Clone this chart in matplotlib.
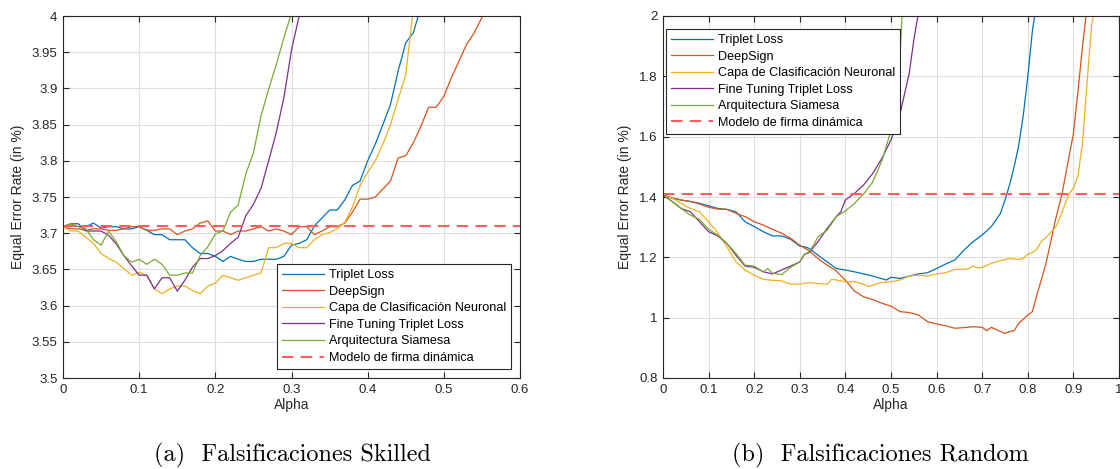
import numpy as np
import matplotlib
matplotlib.use("Agg")
import matplotlib.pyplot as plt

plt.rcParams['font.family'] = ['Liberation Sans', 'DejaVu Sans']

# colores estilo MATLAB
c_blue = "#0072BD"
c_orange = "#D95319"
c_yellow = "#EDB120"
c_purple = "#7E2F8E"
c_green = "#77AC30"

labels = ["Triplet Loss", "DeepSign", "Capa de Clasificación Neuronal",
          "Fine Tuning Triplet Loss", "Arquitectura Siamesa", "Modelo de firma dinámica"]

# (a) falsificaciones skilled, alpha cada 0.01
skl_triplet = [3.709, 3.7105, 3.709, 3.709, 3.714, 3.707, 3.709, 3.709, 3.706, 3.706,
               3.709, 3.704, 3.698, 3.698, 3.691, 3.691, 3.691, 3.680, 3.672, 3.672,
               3.668, 3.661, 3.668, 3.664, 3.661, 3.661, 3.664, 3.664, 3.664, 3.668,
               3.6835, 3.686, 3.691, 3.710, 3.721, 3.732, 3.732, 3.746, 3.766, 3.772,
               3.800, 3.823, 3.850, 3.878, 3.924, 3.963, 3.977, 4.013, 4.06]
skl_deepsign = [3.709, 3.706, 3.706, 3.704, 3.706, 3.706, 3.704, 3.704, 3.706, 3.709,
                3.709, 3.704, 3.704, 3.706, 3.706, 3.698, 3.703, 3.706, 3.714, 3.717,
                3.703, 3.703, 3.698, 3.703, 3.703, 3.706, 3.709, 3.703, 3.706, 3.703,
                3.698, 3.709, 3.709, 3.698, 3.703, 3.709, 3.709, 3.714, 3.729, 3.747,
                3.747, 3.750, 3.761, 3.772, 3.804, 3.807, 3.825, 3.848, 3.874, 3.874,
                3.889, 3.915, 3.938, 3.961, 3.977, 3.998, 4.03]
skl_capa = [3.709, 3.703, 3.703, 3.6945, 3.686, 3.672, 3.665, 3.660, 3.651, 3.642,
            3.646, 3.642, 3.623, 3.6165, 3.623, 3.627, 3.627, 3.621, 3.6165, 3.627,
            3.631, 3.642, 3.6385, 3.635, 3.6385, 3.642, 3.645, 3.680, 3.680, 3.686,
            3.686, 3.680, 3.680, 3.691, 3.698, 3.701, 3.706, 3.715, 3.736, 3.766,
            3.784, 3.800, 3.823, 3.850, 3.885, 3.919, 4.01, 4.1]
skl_fine = [3.709, 3.713, 3.713, 3.703, 3.703, 3.703, 3.697, 3.685, 3.669, 3.655,
            3.642, 3.642, 3.623, 3.6385, 3.6385, 3.620, 3.635, 3.653, 3.665, 3.665,
            3.669, 3.676, 3.686, 3.6945, 3.724, 3.740, 3.762, 3.800, 3.839, 3.887,
            3.953, 4.0, 4.05]
skl_siam = [3.709, 3.713, 3.709, 3.706, 3.691, 3.6835, 3.703, 3.688, 3.669, 3.660,
            3.664, 3.657, 3.664, 3.657, 3.642, 3.642, 3.645, 3.645, 3.669, 3.681,
            3.699, 3.703, 3.729, 3.739, 3.782, 3.811, 3.862, 3.899, 3.933, 3.970,
            4.004, 4.05]
skl_ref = 3.71

# (b) falsificaciones random
rnd_triplet_x = [0, 0.02, 0.04, 0.06, 0.08, 0.10, 0.12, 0.14, 0.16, 0.18, 0.20, 0.22, 0.24,
                 0.26, 0.28, 0.30, 0.31, 0.32, 0.34, 0.36, 0.38, 0.40, 0.42, 0.44, 0.46,
                 0.48, 0.49, 0.50, 0.52, 0.54, 0.56, 0.58, 0.60, 0.62, 0.64, 0.66, 0.68,
                 0.70, 0.72, 0.74, 0.75, 0.76, 0.77, 0.78, 0.79, 0.80, 0.81, 0.82]
rnd_triplet_y = [1.407, 1.396, 1.39, 1.385, 1.379, 1.371, 1.362, 1.359, 1.351, 1.318, 1.302,
                 1.285, 1.271, 1.271, 1.26, 1.237, 1.235, 1.23, 1.207, 1.185, 1.163, 1.158,
                 1.152, 1.145, 1.138, 1.129, 1.125, 1.134, 1.13, 1.138, 1.145, 1.149, 1.163,
                 1.178, 1.191, 1.224, 1.252, 1.274, 1.302, 1.346, 1.39, 1.44, 1.50, 1.57,
                 1.67, 1.80, 1.95, 2.05]
rnd_deepsign_x = [0, 0.02, 0.04, 0.06, 0.08, 0.10, 0.12, 0.14, 0.16, 0.18, 0.20, 0.22, 0.24,
                  0.26, 0.28, 0.30, 0.32, 0.34, 0.36, 0.38, 0.40, 0.42, 0.44, 0.46, 0.48,
                  0.50, 0.52, 0.54, 0.56, 0.58, 0.60, 0.62, 0.64, 0.66, 0.68, 0.70, 0.71,
                  0.72, 0.74, 0.75, 0.76, 0.77, 0.78, 0.80, 0.81, 0.82, 0.84, 0.86, 0.875,
                  0.89, 0.90, 0.91, 0.92, 0.93]
rnd_deepsign_y = [1.407, 1.396, 1.39, 1.385, 1.377, 1.366, 1.36, 1.359, 1.346, 1.335, 1.318,
                  1.307, 1.293, 1.28, 1.263, 1.24, 1.222, 1.196, 1.174, 1.155, 1.124, 1.088,
                  1.069, 1.06, 1.048, 1.038, 1.02, 1.017, 1.009, 0.987, 0.979, 0.973, 0.965,
                  0.967, 0.970, 0.968, 0.957, 0.968, 0.954, 0.948, 0.954, 0.957, 0.981,
                  1.009, 1.02, 1.075, 1.18, 1.32, 1.41, 1.53, 1.61, 1.75, 1.90, 2.03]
rnd_capa_x = [0, 0.02, 0.04, 0.06, 0.08, 0.10, 0.12, 0.14, 0.16, 0.18, 0.20, 0.22, 0.24,
              0.26, 0.28, 0.30, 0.32, 0.34, 0.36, 0.37, 0.38, 0.40, 0.42, 0.44, 0.45, 0.46,
              0.48, 0.50, 0.52, 0.54, 0.56, 0.58, 0.60, 0.62, 0.64, 0.66, 0.67, 0.68, 0.69,
              0.70, 0.72, 0.74, 0.76, 0.78, 0.79, 0.80, 0.81, 0.82, 0.83, 0.84, 0.85, 0.86,
              0.87, 0.88, 0.89, 0.90, 0.91, 0.92, 0.93, 0.94, 0.95]
rnd_capa_y = [1.407, 1.396, 1.379, 1.362, 1.351, 1.318, 1.282, 1.235, 1.185, 1.158, 1.141,
              1.127, 1.124, 1.122, 1.111, 1.111, 1.116, 1.113, 1.111, 1.127, 1.125, 1.119,
              1.119, 1.111, 1.103, 1.108, 1.117, 1.119, 1.125, 1.138, 1.141, 1.138, 1.145,
              1.149, 1.16, 1.16, 1.162, 1.171, 1.165, 1.166, 1.18, 1.189, 1.196, 1.193,
              1.196, 1.21, 1.216, 1.227, 1.254, 1.265, 1.282, 1.298, 1.33, 1.37, 1.41,
              1.43, 1.47, 1.58, 1.78, 1.97, 2.05]
rnd_fine_x = [0, 0.02, 0.04, 0.06, 0.08, 0.10, 0.12, 0.14, 0.16, 0.18, 0.20, 0.22, 0.24,
              0.26, 0.28, 0.30, 0.31, 0.32, 0.34, 0.36, 0.38, 0.39, 0.40, 0.42, 0.44, 0.46,
              0.48, 0.50, 0.52, 0.54, 0.55, 0.56]
rnd_fine_y = [1.407, 1.385, 1.362, 1.351, 1.318, 1.285, 1.271, 1.246, 1.207, 1.171, 1.167,
              1.152, 1.145, 1.158, 1.171, 1.185, 1.21, 1.215, 1.252, 1.296, 1.335, 1.351,
              1.39, 1.412, 1.44, 1.478, 1.528, 1.589, 1.677, 1.81, 1.92, 2.01]
rnd_siam_x = [0, 0.02, 0.04, 0.06, 0.08, 0.10, 0.12, 0.14, 0.16, 0.18, 0.20, 0.22, 0.23,
              0.24, 0.26, 0.28, 0.30, 0.31, 0.32, 0.33, 0.34, 0.36, 0.38, 0.40, 0.42, 0.44,
              0.46, 0.48, 0.50, 0.51, 0.52, 0.525]
rnd_siam_y = [1.407, 1.385, 1.362, 1.34, 1.326, 1.293, 1.274, 1.246, 1.213, 1.174, 1.171,
              1.152, 1.163, 1.147, 1.143, 1.167, 1.185, 1.21, 1.218, 1.24, 1.268, 1.29,
              1.335, 1.354, 1.379, 1.41, 1.45, 1.52, 1.62, 1.70, 1.88, 2.02]
rnd_ref = 1.41

skl_ticks_y = [3.5, 3.55, 3.6, 3.65, 3.7, 3.75, 3.8, 3.85, 3.9, 3.95, 4]
skl_ticks_x = [0, 0.1, 0.2, 0.3, 0.4, 0.5, 0.6]
rnd_ticks_y = [0.8, 1, 1.2, 1.4, 1.6, 1.8, 2]
rnd_ticks_x = [0, 0.1, 0.2, 0.3, 0.4, 0.5, 0.6, 0.7, 0.8, 0.9, 1]


def fmt(v):
    s = ("%.2f" % v).rstrip("0").rstrip(".")
    return s


def estilo(ax, xt, yt):
    ax.set_xticks(xt)
    ax.set_yticks(yt)
    ax.set_xticklabels([fmt(v) for v in xt])
    ax.set_yticklabels([fmt(v) for v in yt])
    ax.tick_params(direction="in", length=4, width=0.8, top=True, right=True,
                   labelsize=9.5, colors="#262626", pad=4)
    ax.grid(True, color="#dedede", linewidth=0.8)
    ax.set_axisbelow(True)
    for s in ax.spines.values():
        s.set_color("#262626")
        s.set_linewidth(0.8)
    ax.set_xlabel("Alpha", fontsize=10, color="#262626", labelpad=2)
    ax.set_ylabel("Equal Error Rate (in %)", fontsize=10, color="#262626", labelpad=5)


fig = plt.figure(figsize=(11.2, 4.69), dpi=100)
ax1 = fig.add_axes([63 / 1120, 1 - 378 / 469, 457 / 1120, 362 / 469])
ax2 = fig.add_axes([663 / 1120, 1 - 378 / 469, 456 / 1120, 362 / 469])

lw = 0.9
alpha_a = np.round(np.arange(0, 0.6, 0.01), 2)
ax1.plot(alpha_a[:len(skl_triplet)], skl_triplet, color=c_blue, lw=lw)
ax1.plot(alpha_a[:len(skl_deepsign)], skl_deepsign, color=c_orange, lw=lw)
ax1.plot(alpha_a[:len(skl_capa)], skl_capa, color=c_yellow, lw=lw)
ax1.plot(alpha_a[:len(skl_fine)], skl_fine, color=c_purple, lw=lw)
ax1.plot(alpha_a[:len(skl_siam)], skl_siam, color=c_green, lw=lw)
ax1.axhline(skl_ref, color="#ff5c5c", lw=1.5, dashes=(5.5, 3.5))
ax1.set_xlim(0, 0.6)
ax1.set_ylim(3.5, 4)
estilo(ax1, skl_ticks_x, skl_ticks_y)

ax2.plot(rnd_triplet_x, rnd_triplet_y, color=c_blue, lw=lw)
ax2.plot(rnd_deepsign_x, rnd_deepsign_y, color=c_orange, lw=lw)
ax2.plot(rnd_capa_x, rnd_capa_y, color=c_yellow, lw=lw)
ax2.plot(rnd_fine_x, rnd_fine_y, color=c_purple, lw=lw)
ax2.plot(rnd_siam_x, rnd_siam_y, color=c_green, lw=lw)
ax2.axhline(rnd_ref, color="#ff5c5c", lw=1.5, dashes=(5.5, 3.5))
ax2.set_xlim(0, 1)
ax2.set_ylim(0.8, 2)
estilo(ax2, rnd_ticks_x, rnd_ticks_y)

leg_kw = dict(fontsize=9.1, frameon=True, fancybox=False, framealpha=1,
              edgecolor="#262626", handlelength=3.3, handletextpad=0.4,
              labelspacing=0.36, borderpad=0.4, borderaxespad=0)
l1 = ax1.legend(labels, loc="lower right", bbox_to_anchor=(1 - 9 / 457, 9 / 362), **leg_kw)
l2 = ax2.legend(labels, loc="upper left", bbox_to_anchor=(3 / 456, 1 - 13 / 362), **leg_kw)
for l in (l1, l2):
    l.get_frame().set_linewidth(0.8)

fig.text(292 / 1120, 1 - 455 / 469, "(a)  Falsificaciones Skilled", ha="center", va="center",
         fontsize=17.5, family="cmr10")
fig.text(880 / 1120, 1 - 455 / 469, "(b)  Falsificaciones Random", ha="center", va="center",
         fontsize=17.5, family="cmr10")

fig.savefig("out.png", dpi=100)
